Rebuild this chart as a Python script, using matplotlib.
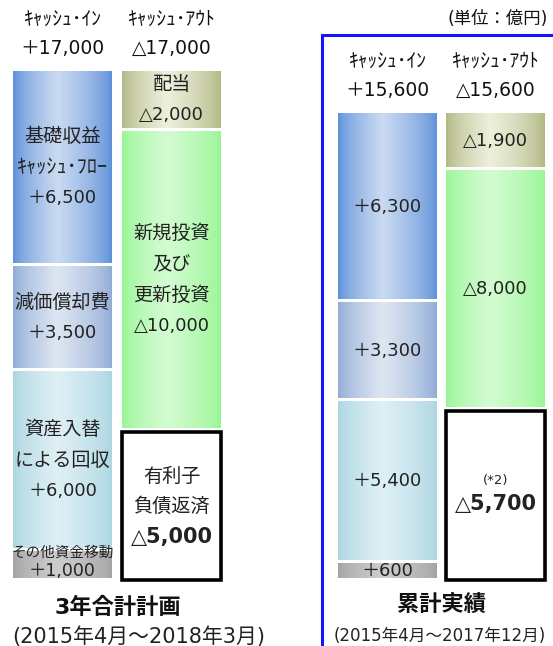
import numpy as np
import matplotlib
matplotlib.use("Agg")
import matplotlib.pyplot as plt
from matplotlib.patches import Rectangle
from matplotlib.colors import to_rgb

plt.rcParams['font.family'] = ['DejaVu Sans', 'Noto Sans CJK JP']

# ==============================
# DATA (億円)
# ==============================

# segments listed top to bottom
in_labels = [['基礎収益', 'ｷｬｯｼｭ･ﾌﾛｰ'], ['減価償却費'], ['資産入替', 'による回収'], ['その他資金移動']]
out_labels = [['配当'], ['新規投資', '及び', '更新投資'], ['有利子', '負債返済']]

plan_in = [6500, 3500, 6000, 1000]
plan_out = [2000, 10000, 5000]
actual_in = [6300, 3300, 5400, 600]
actual_out = [1900, 8000, 5700]

panel_titles = ['3年合計計画', '累計実績']
panel_periods = ['(2015年4月～2018年3月)', '(2015年4月～2017年12月)']
header_in = 'ｷｬｯｼｭ･ｲﾝ'
header_out = 'ｷｬｯｼｭ･ｱｳﾄ'
unit_label = '(単位：億円)'

in_colors = [('#5b8fd9', '#cadaf1'), ('#8eaad5', '#dee6f2'),
             ('#aad5e1', '#dff0f5'), ('#a3a3a3', '#cdcdcd')]
out_colors = [('#b0b683', '#eef0dc'), ('#97f595', '#d3fcd1'), None]

# ==============================
# FIGURE
# ==============================

W, H = 553, 646
PX = 0.03            # pixels per 億円
BASE = 580           # pixel row of the zero line
fig = plt.figure(figsize=(W / 100, H / 100), dpi=100)
ax = fig.add_axes([0, 0, 1, 1])
ax.set_xlim(0, W)
ax.set_ylim((BASE - H) / PX, BASE / PX)
ax.axis('off')

GAP = 55
LINE = 1030
BAR_W = 99
TXT = '#222222'


def gradient(edge, center, peak=0.45, n=200):
    t = np.linspace(0, 1, n)
    f = np.where(t < peak, t / peak, (1 - t) / (1 - peak)) ** 0.7
    e = np.array(to_rgb(edge))
    c = np.array(to_rgb(center))
    return (e + (c - e) * f[:, None])[None, :, :]


def stack(values):
    tops = np.cumsum(values[::-1])[::-1]
    return tops - np.array(values), tops


def fmt_in(v):
    return '＋{:,}'.format(v)


def fmt_out(v):
    return '△{:,}'.format(v)


def draw_bar(x0, values, colors):
    bottoms, tops = stack(values)
    for b, t, col in zip(bottoms, tops, colors):
        if col is None:
            ax.add_patch(Rectangle((x0, b), BAR_W, t - b - GAP, facecolor='white',
                                   edgecolor='black', linewidth=2.6, zorder=3))
        else:
            ax.imshow(gradient(*col), extent=(x0, x0 + BAR_W, b + GAP, t - GAP),
                      aspect='auto', zorder=2, interpolation='bilinear')
    return bottoms, tops


def draw_lines(xc, yc, lines, sizes, weights, spacing=LINE):
    n = len(lines)
    for i, (s, fs, fw) in enumerate(zip(lines, sizes, weights)):
        y = yc + (n - 1) / 2 * spacing - i * spacing
        ax.text(xc, y, s, ha='center', va='center', fontsize=fs,
                fontweight=fw, color=TXT, zorder=5)


def headers(xc_in, xc_out, total):
    ax.text(xc_in, total + 1700, header_in, ha='center', va='center', fontsize=14, color='#111111')
    ax.text(xc_out, total + 1700, header_out, ha='center', va='center', fontsize=14, color='#111111')
    ax.text(xc_in, total + 720, fmt_in(total), ha='center', va='center', fontsize=13.5, color='#111111')
    ax.text(xc_out, total + 720, fmt_out(total), ha='center', va='center', fontsize=13.5, color='#111111')


# ==============================
# LEFT PANEL: PLAN
# ==============================

lx_in, lx_out = 13, 122
b, t = draw_bar(lx_in, plan_in, in_colors)
c_in = lx_in + BAR_W / 2
for i in range(3):
    mid = (b[i] + t[i]) / 2
    lines = in_labels[i] + [fmt_in(plan_in[i])]
    sizes = [13.8] * (len(lines) - 1) + [13]
    if i == 0:
        sizes[1] = 14.5
    draw_lines(c_in, mid, lines, sizes, ['normal'] * len(lines))
mid = (b[3] + t[3]) / 2
ax.text(c_in, mid + 430, in_labels[3][0], ha='center', va='center', fontsize=10.5, color=TXT, zorder=5)
ax.text(c_in, mid - 200, fmt_in(plan_in[3]), ha='center', va='center', fontsize=12.5, color=TXT, zorder=5)

b, t = draw_bar(lx_out, plan_out, out_colors)
c_out = lx_out + BAR_W / 2
for i in range(3):
    mid = (b[i] + t[i]) / 2
    lines = out_labels[i] + [fmt_out(plan_out[i])]
    weights = ['normal'] * len(lines)
    sizes = [13.8] * (len(lines) - 1) + [13]
    if i == 2:
        weights[-1] = 'bold'
        sizes[-1] = 15
    draw_lines(c_out, mid - (GAP if i == 2 else 0), lines, sizes, weights,
               spacing=1000 if i == 2 else LINE)

headers(c_in, c_out, sum(plan_in))
ax.text(118, -900, panel_titles[0], ha='center', va='center', fontsize=16, fontweight='bold', color='#111111')
ax.text(139, -1900, panel_periods[0], ha='center', va='center', fontsize=15, color=TXT)

# ==============================
# RIGHT PANEL: ACTUAL
# ==============================

rx_in, rx_out = 338, 446
ax.add_patch(Rectangle((322, -3000), 260, (BASE - 35) / PX + 3000, facecolor='none',
                       edgecolor='#1414ff', linewidth=2.2, zorder=6))
ax.text(548, (BASE - 19) / PX, unit_label, ha='right', va='center', fontsize=12.5, color='#111111')

b, t = draw_bar(rx_in, actual_in, in_colors)
c_in = rx_in + BAR_W / 2
for i in range(4):
    mid = (b[i] + t[i]) / 2
    ax.text(c_in, mid, fmt_in(actual_in[i]), ha='center', va='center',
            fontsize=13, color=TXT, zorder=5)

b, t = draw_bar(rx_out, actual_out, out_colors)
c_out = rx_out + BAR_W / 2
for i in range(2):
    mid = (b[i] + t[i]) / 2
    ax.text(c_out, mid, fmt_out(actual_out[i]), ha='center', va='center',
            fontsize=13, color=TXT, zorder=5)
mid = (b[2] + t[2]) / 2
ax.text(c_out, mid + 480, '(*2)', ha='center', va='center', fontsize=9.5, color=TXT, zorder=5)
ax.text(c_out, mid - 330, fmt_out(actual_out[2]), ha='center', va='center',
        fontsize=15, fontweight='bold', color=TXT, zorder=5)

headers(c_in, c_out, sum(actual_in))
ax.text(442, -850, panel_titles[1], ha='center', va='center', fontsize=16, fontweight='bold', color='#111111')
ax.text(440, -1870, panel_periods[1], ha='center', va='center', fontsize=12, color=TXT)

fig.savefig("out.png", dpi=100)
